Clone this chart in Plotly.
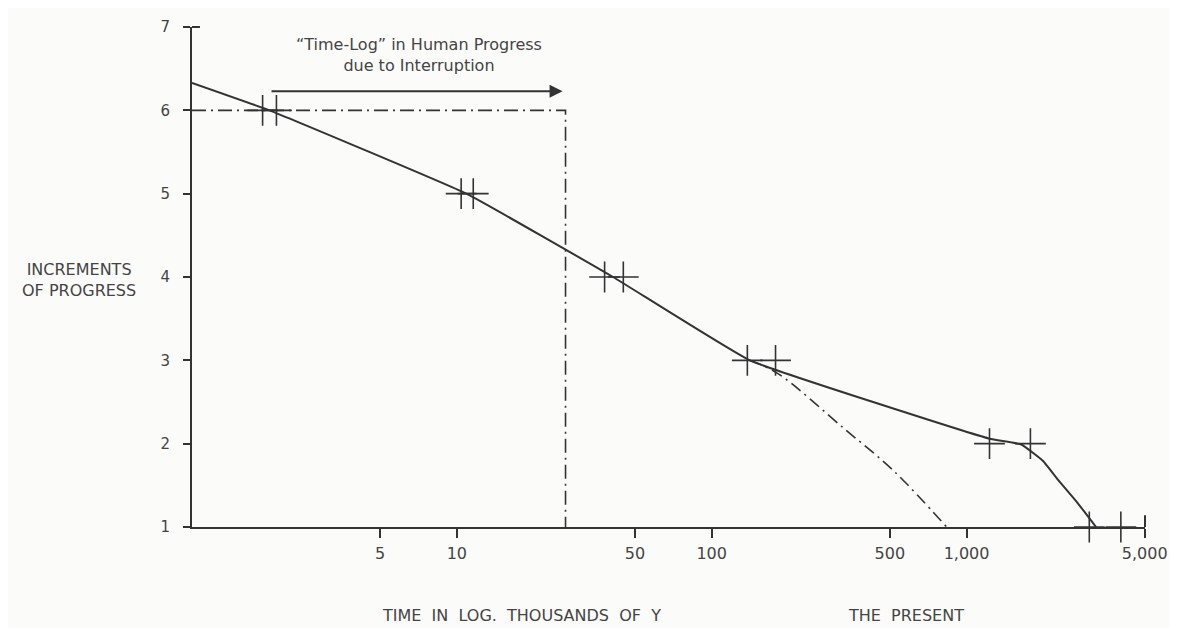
import math
import plotly.graph_objects as go

# ---- data ----
solid_x = [0.914, 1.84, 10.9, 41, 141, 1230, 1640, 2000, 2307, 2690, 3077, 3220]
solid_y = [6.33, 6.0, 5.0, 4.0, 3.0, 2.06, 1.99, 1.79, 1.55, 1.31, 1.08, 1.0]

extrap_x = [141, 180, 331, 519, 835]
extrap_y = [3.0, 2.85, 2.18, 1.67, 1.0]

interrupt_x = [0.914, 26.7, 26.7]
interrupt_y = [6.0, 6.0, 1.0]

cross_x = [1.73, 1.96, 10.4, 11.6, 38, 45, 138, 178, 1230, 1780, 3030, 4030]
cross_y = [6, 6, 5, 5, 4, 4, 3, 3, 2, 2, 1, 1]

x_tickvals = [5, 10, 50, 100, 500, 1000, 5000]
x_ticktext = ["5", "10", "50", "100", "500", "1,000", "5,000"]
y_tickvals = [1, 2, 3, 4, 5, 6, 7]
y_ticktext = ["1", "2", "3", "4", "5", "6", "7"]

arrow_start, arrow_end, arrow_y = 1.85, 26.0, 6.23
note_x, note_y = 7.1, 6.67

INK = "#333333"
TXT = "#444444"
FONT = "DejaVu Sans"
BG = "#fbfbfa"

# page body has an 8px margin; plot area should be at page px x 192..1150, y 18..527
PL, PR, PT, PB = 192, 1150, 18, 527


def px(xp):
    return (xp - PL) / (PR - PL)


def py(yp):
    return 1 - (yp - PT) / (PB - PT)


fig = go.Figure()
fig.add_trace(go.Scatter(x=interrupt_x, y=interrupt_y, mode="lines",
                         line=dict(color=INK, width=1.6, dash="14px,5px,2px,5px"),
                         hoverinfo="skip"))
fig.add_trace(go.Scatter(x=extrap_x, y=extrap_y, mode="lines",
                         line=dict(color=INK, width=1.6, dash="12px,5px,2px,5px", shape="spline"),
                         hoverinfo="skip"))
fig.add_trace(go.Scatter(x=solid_x, y=solid_y, mode="lines",
                         line=dict(color=INK, width=2, shape="spline", smoothing=0.3),
                         hoverinfo="skip"))
fig.add_trace(go.Scatter(x=cross_x, y=cross_y, mode="markers", cliponaxis=False,
                         marker=dict(symbol="cross-thin", size=22,
                                     line=dict(color=INK, width=1.6))))

fig.add_annotation(x=math.log10(arrow_end), y=arrow_y, ax=math.log10(arrow_start), ay=arrow_y,
                   xref="x", yref="y", axref="x", ayref="y", text="",
                   showarrow=True, arrowhead=2, arrowsize=1.3, arrowwidth=2, arrowcolor=INK)
fig.add_annotation(x=math.log10(note_x), y=note_y, xref="x", yref="y",
                   text="\u201cTime-Log\u201d in Human Progress<br>due to Interruption",
                   showarrow=False, align="center", xanchor="center", yanchor="middle",
                   font=dict(family=FONT, size=16, color=TXT))

fig.add_annotation(xref="paper", yref="paper", x=px(78), y=py(276),
                   text="INCREMENTS<br>OF PROGRESS", showarrow=False,
                   align="center", xanchor="center", yanchor="middle",
                   font=dict(family=FONT, size=16, color=TXT))
fig.add_annotation(xref="paper", yref="paper", x=px(523), y=py(617),
                   text="TIME  IN  LOG.  THOUSANDS  OF  Y", showarrow=False,
                   xanchor="center", yanchor="middle",
                   font=dict(family=FONT, size=16, color=TXT))
fig.add_annotation(xref="paper", yref="paper", x=px(910), y=py(617),
                   text="THE  PRESENT", showarrow=False,
                   xanchor="center", yanchor="middle",
                   font=dict(family=FONT, size=16, color=TXT))

# small hooks at the axis ends
fig.add_shape(type="line", xref="paper", yref="paper", x0=0, x1=8 / (PR - PL), y0=1, y1=1,
              line=dict(color=INK, width=2))
fig.add_shape(type="line", xref="paper", yref="paper", x0=1, x1=1, y0=0, y1=12 / (PB - PT),
              line=dict(color=INK, width=2))

fig.update_xaxes(type="log", range=[-0.039, 3.70], tickvals=x_tickvals, ticktext=x_ticktext,
                 showgrid=False, zeroline=False, showline=True, linecolor=INK, linewidth=2,
                 ticks="outside", ticklen=9, tickwidth=1.5, tickcolor=INK,
                 ticklabelstandoff=2, tickfont=dict(family=FONT, size=16, color=TXT))
fig.update_yaxes(range=[1, 7], tickvals=y_tickvals, ticktext=y_ticktext,
                 showgrid=False, zeroline=False, showline=True, linecolor=INK, linewidth=2,
                 ticks="outside", ticklen=7, tickwidth=1.5, tickcolor=INK,
                 ticklabelstandoff=10, tickfont=dict(family=FONT, size=15, color=TXT))

W, H = 1170, 620
fig.update_layout(width=W, height=H, showlegend=False,
                  margin=dict(l=PL - 8, r=(W + 8) - PR, t=PT - 8, b=(H + 8) - PB),
                  paper_bgcolor=BG, plot_bgcolor=BG)

fig.write_html("out.html")
